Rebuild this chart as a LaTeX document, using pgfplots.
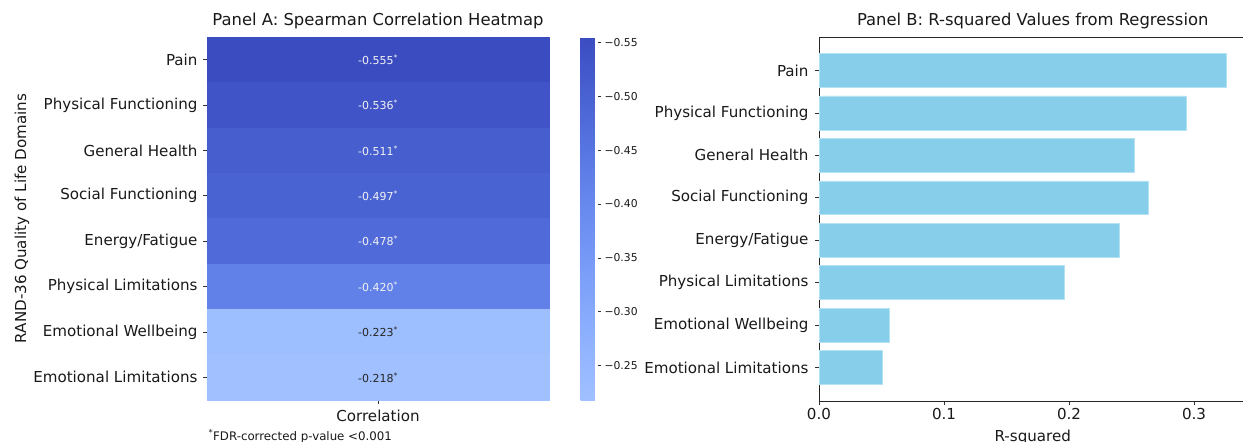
\documentclass[border=0pt]{standalone}
\usepackage{fontspec}
\setmainfont{DejaVu Sans}
\usepackage{pgfplots}
\pgfplotsset{compat=1.18}
\usepgfplotslibrary{patchplots}
\definecolor{skyblue}{HTML}{87CEEB}
\definecolor{skyedge}{HTML}{B4E2F3}
\definecolor{annodark}{HTML}{262626}
\definecolor{annolight}{HTML}{F2F2F2}
\pgfplotsset{colormap={cwpart}{
    rgb255(0cm)=(59,76,192)
    rgb255(1cm)=(68,90,204)
    rgb255(2cm)=(77,103,214)
    rgb255(3cm)=(86,116,224)
    rgb255(4cm)=(97,129,233)
    rgb255(5cm)=(107,141,240)
    rgb255(6cm)=(117,152,246)
    rgb255(7cm)=(128,163,250)
    rgb255(8cm)=(139,174,253)
    rgb255(9cm)=(150,183,255)
    rgb255(10cm)=(160,192,255)
}}
\begin{document}
\begin{tikzpicture}
\useasboundingbox (0pt,0pt) rectangle (1243pt,442pt);
\clip (0pt,0pt) rectangle (1243pt,442pt);
% ---------------- Panel A: heatmap ----------------
\begin{axis}[
  at={(207pt,42pt)}, anchor=south west,
  scale only axis, width=342pt, height=363pt,
  xmin=0, xmax=1, ymin=0, ymax=8, y dir=reverse,
  clip=false,
  /pgf/number format/assume math mode=true,
  axis line style={draw=none},
  tick align=outside, tick pos=left,
  major tick length=4pt,
  tick style={black!80, line width=0.8pt},
  xtick={0.5}, xticklabels={},
  ytick={0.5,1.5,2.5,3.5,4.5,5.5,6.5,7.5},
  yticklabels={Pain, Physical Functioning, General Health, Social Functioning, Energy/Fatigue, Physical Limitations, Emotional Wellbeing, Emotional Limitations},
  yticklabel style={font=\fontsize{15.1}{18}\selectfont, text=black!90, xshift=-2pt},
  title={Panel A: Spearman Correlation Heatmap},
  title style={at={(0.5,1)}, anchor=base, yshift=6pt, font=\fontsize{16.4}{19}\selectfont, text=black!90},
  xlabel={Correlation},
  xlabel style={at={(rel axis cs:0.5,0)}, anchor=base, yshift=-21.7pt, font=\fontsize{15.1}{18}\selectfont, text=black!90},
  ylabel={RAND-36 Quality of Life Domains},
  ylabel style={at={(rel axis cs:-0.5410,0.5)}, rotate=0, anchor=center, font=\fontsize{15.1}{18}\selectfont, text=black!90},
  colormap name=cwpart,
  point meta min=-0.555, point meta max=-0.218,
  colorbar,
  colorbar style={
    at={(parent axis.north east)}, anchor=north west, xshift=23pt,
    width=17pt,
    y dir=reverse,
    axis line style={draw=none},
    ytick={-0.55,-0.50,-0.45,-0.40,-0.35,-0.30,-0.25},
    yticklabels={−0.55,−0.50,−0.45,−0.40,−0.35,−0.30,−0.25},
    yticklabel style={font=\fontsize{10.8}{13}\selectfont, text=black!90},
    ytick pos=right, yticklabel pos=right,
    tick align=outside, major tick length=3.5pt,
    tick style={black!80, line width=0.6pt},
  },
]
\addplot[patch, patch type=rectangle, shader=flat, point meta=explicit] table[meta=c] {
x y c
0 0 -0.555
1 0 -0.555
1 1 -0.555
0 1 -0.555
0 1 -0.536
1 1 -0.536
1 2 -0.536
0 2 -0.536
0 2 -0.511
1 2 -0.511
1 3 -0.511
0 3 -0.511
0 3 -0.497
1 3 -0.497
1 4 -0.497
0 4 -0.497
0 4 -0.478
1 4 -0.478
1 5 -0.478
0 5 -0.478
0 5 -0.420
1 5 -0.420
1 6 -0.420
0 6 -0.420
0 6 -0.223
1 6 -0.223
1 7 -0.223
0 7 -0.223
0 7 -0.218
1 7 -0.218
1 8 -0.218
0 8 -0.218
};
\addplot[only marks, mark=none, point meta=explicit symbolic,
  nodes near coords={\pgfplotspointmeta\textsuperscript{*}},
  nodes near coords align={center},
  every node near coord/.style={font=\fontsize{11}{13}\selectfont, text=annolight, anchor=center}]
  coordinates {(0.5,0.5) [-0.555] (0.5,1.5) [-0.536] (0.5,2.5) [-0.511] (0.5,3.5) [-0.497] (0.5,4.5) [-0.478] (0.5,5.5) [-0.420]};
\addplot[only marks, mark=none, point meta=explicit symbolic,
  nodes near coords={\pgfplotspointmeta\textsuperscript{*}},
  nodes near coords align={center},
  every node near coord/.style={font=\fontsize{11}{13}\selectfont, text=annodark, anchor=center}]
  coordinates {(0.5,6.5) [-0.223] (0.5,7.5) [-0.218]};
\node[anchor=base west, xshift=-2pt, yshift=-40pt, font=\fontsize{11.8}{14}\selectfont, text=black!90] at (rel axis cs:0,0) {\textsuperscript{*}FDR-corrected p-value <0.001};
\end{axis}
% ---------------- Panel B: bars ----------------
\begin{axis}[
  at={(819pt,41pt)}, anchor=south west,
  scale only axis, width=427.5pt, height=364pt,
  xmin=0, xmax=0.342, ymin=-0.79, ymax=7.79, y dir=reverse,
  /pgf/number format/assume math mode=true,
  xbar, bar width=0.8,
  axis line style={black!85, line width=0.9pt},
  tick align=outside, tick pos=left,
  major tick length=4pt,
  tick style={black!80, line width=0.8pt},
  ytick={0,1,2,3,4,5,6,7},
  yticklabels={Pain, Physical Functioning, General Health, Social Functioning, Energy/Fatigue, Physical Limitations, Emotional Wellbeing, Emotional Limitations},
  xtick={0,0.1,0.2,0.3}, xticklabels={0.0,0.1,0.2,0.3},
  ticklabel style={font=\fontsize{15.1}{18}\selectfont, text=black!90},
  yticklabel style={xshift=-3pt},
  title={Panel B: R-squared Values from Regression},
  title style={at={(0.5,1)}, anchor=base, yshift=6pt, font=\fontsize{16.4}{19}\selectfont, text=black!90},
  xlabel={R-squared},
  xlabel style={at={(rel axis cs:0.5,0)}, anchor=base, yshift=-40pt, font=\fontsize{15.1}{18}\selectfont, text=black!90},
]
\addplot[fill=skyblue, draw=skyedge, line width=0.6pt] coordinates {
(0.326,0) (0.2935,1) (0.252,2) (0.2635,3) (0.240,4) (0.196,5) (0.0563,6) (0.0507,7)
};
\end{axis}
\end{tikzpicture}
\end{document}
